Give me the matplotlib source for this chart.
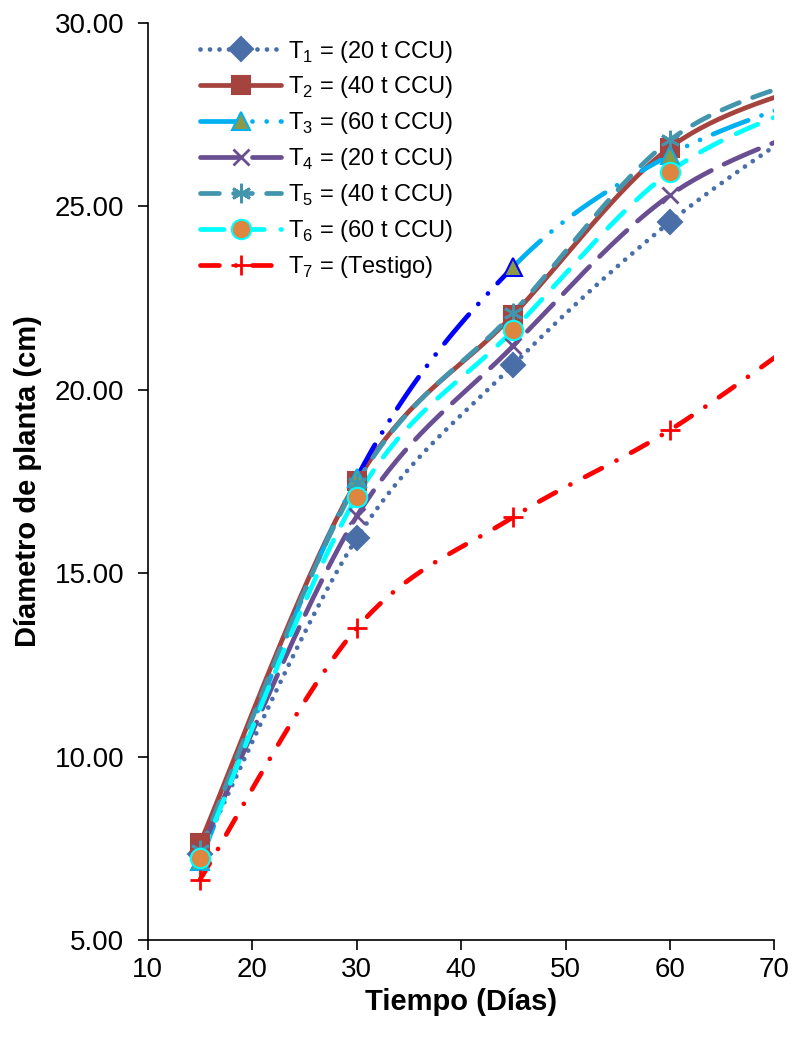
import numpy as np
import matplotlib
matplotlib.use("Agg")
import matplotlib.pyplot as plt
from matplotlib.lines import Line2D

plt.rcParams['font.family'] = ['Liberation Sans', 'DejaVu Sans']
plt.rcParams['mathtext.fontset'] = 'custom'
plt.rcParams['mathtext.rm'] = 'Liberation Sans'

# days after transplant (last point lies past the visible axis)
dias = [15, 30, 45, 60, 75]

t1 = [7.35, 15.95, 20.68, 24.57, 27.6]
t2 = [7.64, 17.50, 22.04, 26.60, 28.45]
t3 = [7.15, 17.60, 23.35, 26.40, 28.10]
t4 = [7.40, 16.55, 21.20, 25.30, 27.30]
t5 = [7.45, 17.45, 22.10, 26.80, 28.65]
t6 = [7.24, 17.08, 21.63, 25.94, 28.00]
t7 = [6.65, 13.50, 16.53, 18.90, 21.90]

etiquetas = ["T$_1$ = (20 t CCU)", "T$_2$ = (40 t CCU)", "T$_3$ = (60 t CCU)",
             "T$_4$ = (20 t CCU)", "T$_5$ = (40 t CCU)", "T$_6$ = (60 t CCU)",
             "T$_7$ = (Testigo)"]


def suave(x, y, n=40):
    # bezier smoothing like the spreadsheet "smoothed line" option
    x = np.asarray(x, float)
    y = np.asarray(y, float)
    px = np.concatenate([[x[0]], x, [x[-1]]])
    py = np.concatenate([[y[0]], y, [y[-1]]])
    xs, ys = [], []
    t = np.linspace(0, 1, n)
    for i in range(1, len(px) - 2):
        p0 = np.array([px[i], py[i]])
        p3 = np.array([px[i + 1], py[i + 1]])
        p1 = p0 + (p3 - np.array([px[i - 1], py[i - 1]])) / 6.0
        p2 = p3 - (np.array([px[i + 2], py[i + 2]]) - p0) / 6.0
        b = ((1 - t) ** 3)[:, None] * p0 + (3 * (1 - t) ** 2 * t)[:, None] * p1 \
            + (3 * (1 - t) * t ** 2)[:, None] * p2 + (t ** 3)[:, None] * p3
        xs.append(b[:, 0])
        ys.append(b[:, 1])
    return np.concatenate(xs), np.concatenate(ys)


fig = plt.figure(figsize=(7.95, 10.37), dpi=100)
ax = fig.add_axes([0.186, 0.0935, 0.788, 0.8845])

lw = 3.4
estilos = [
    dict(y=t1, c='#4A6FA8', ls=(0, (0.01, 2.0)), m='D', ms=12, mfc='#4A6FA8', mec='#4A6FA8'),
    dict(y=t2, c='#A5433F', ls='-', m='s', ms=13, mfc='#A5433F', mec='#A5433F'),
    dict(y=t3, c='#00B0F0', ls=(0, (8, 3, 0.01, 3, 0.01, 3)), m='^', ms=13, mfc='#8A9A48', mec='#00B0F0'),
    dict(y=t4, c='#6A4E92', ls=(0, (8, 3)), m='x', ms=12, mfc='#6A4E92', mec='#6A4E92'),
    dict(y=t5, c='#4395AD', ls=(0, (4, 3)), m=(6, 2, 0), ms=14, mfc='#4395AD', mec='#4395AD'),
    dict(y=t6, c='#00FFFF', ls=(0, (5, 3.5)), m='o', ms=14, mfc='#DE8640', mec='#00FFFF'),
    dict(y=t7, c='#FF0000', ls=(0, (4, 3.5, 0.01, 3.5)), m='+', ms=14, mfc='#FF0000', mec='#FF0000'),
]

handles = []
for k, e in enumerate(estilos):
    xs, ys = suave(dias, e['y'])
    if k == 2:
        # the 30-45 day stretch of this series is drawn in pure blue
        for lo, hi, col in [(0, 30, e['c']), (30, 45, '#0000FF'), (45, 99, e['c'])]:
            sel = (xs >= lo) & (xs <= hi)
            ax.plot(xs[sel], ys[sel], color=col, lw=lw, ls=e['ls'],
                    dash_capstyle='round', solid_capstyle='round', zorder=2 + k)
    else:
        ax.plot(xs, ys, color=e['c'], lw=lw, ls=e['ls'],
                dash_capstyle='round', solid_capstyle='round', zorder=2 + k)
    mew = 2.0 if e['m'] in ('x', '+', (6, 2, 0)) else 1.5
    if k == 2:
        ecs = [e['mec'], e['mec'], '#0000FF', e['mec'], e['mec']]
        for xi, yi, ec in zip(dias, e['y'], ecs):
            ax.plot([xi], [yi], ls='none', marker=e['m'], ms=e['ms'], mfc=e['mfc'],
                    mec=ec, mew=mew, zorder=10 + k)
    else:
        ax.plot(dias, e['y'], ls='none', marker=e['m'], ms=e['ms'], mfc=e['mfc'],
                mec=e['mec'], mew=mew, zorder=10 + k)
    handles.append(Line2D([], [], color=e['c'], lw=lw, ls=e['ls'], marker=e['m'],
                          ms=e['ms'], mfc=e['mfc'], mec=e['mec'], mew=mew,
                          dash_capstyle='round', solid_capstyle='round'))

ax.set_xlim(10, 70)
ax.set_ylim(5, 30)
ax.set_xticks(range(10, 71, 10))
ax.set_yticks([5, 10, 15, 20, 25, 30])
ax.set_yticklabels(["%.2f" % v for v in [5, 10, 15, 20, 25, 30]])
ax.tick_params(labelsize=20, length=7, width=1.2, direction='out', colors='black')
ax.tick_params(axis='y', pad=10)
ax.tick_params(axis='x', pad=5)
for s in ['top', 'right']:
    ax.spines[s].set_visible(False)
for s in ['left', 'bottom']:
    ax.spines[s].set_linewidth(1.2)

ax.set_xlabel("Tiempo (Días)", fontsize=21, fontweight='bold', labelpad=4)
ax.set_ylabel("Díametro de planta (cm)", fontsize=21, fontweight='bold', labelpad=9)

ax.legend(handles, etiquetas, loc='upper left', bbox_to_anchor=(0.05, 1.006),
          frameon=False, fontsize=17, handlelength=3.4, labelspacing=0.42,
          handletextpad=0.3)

fig.savefig("out.png", dpi=100)
plt.close(fig)
